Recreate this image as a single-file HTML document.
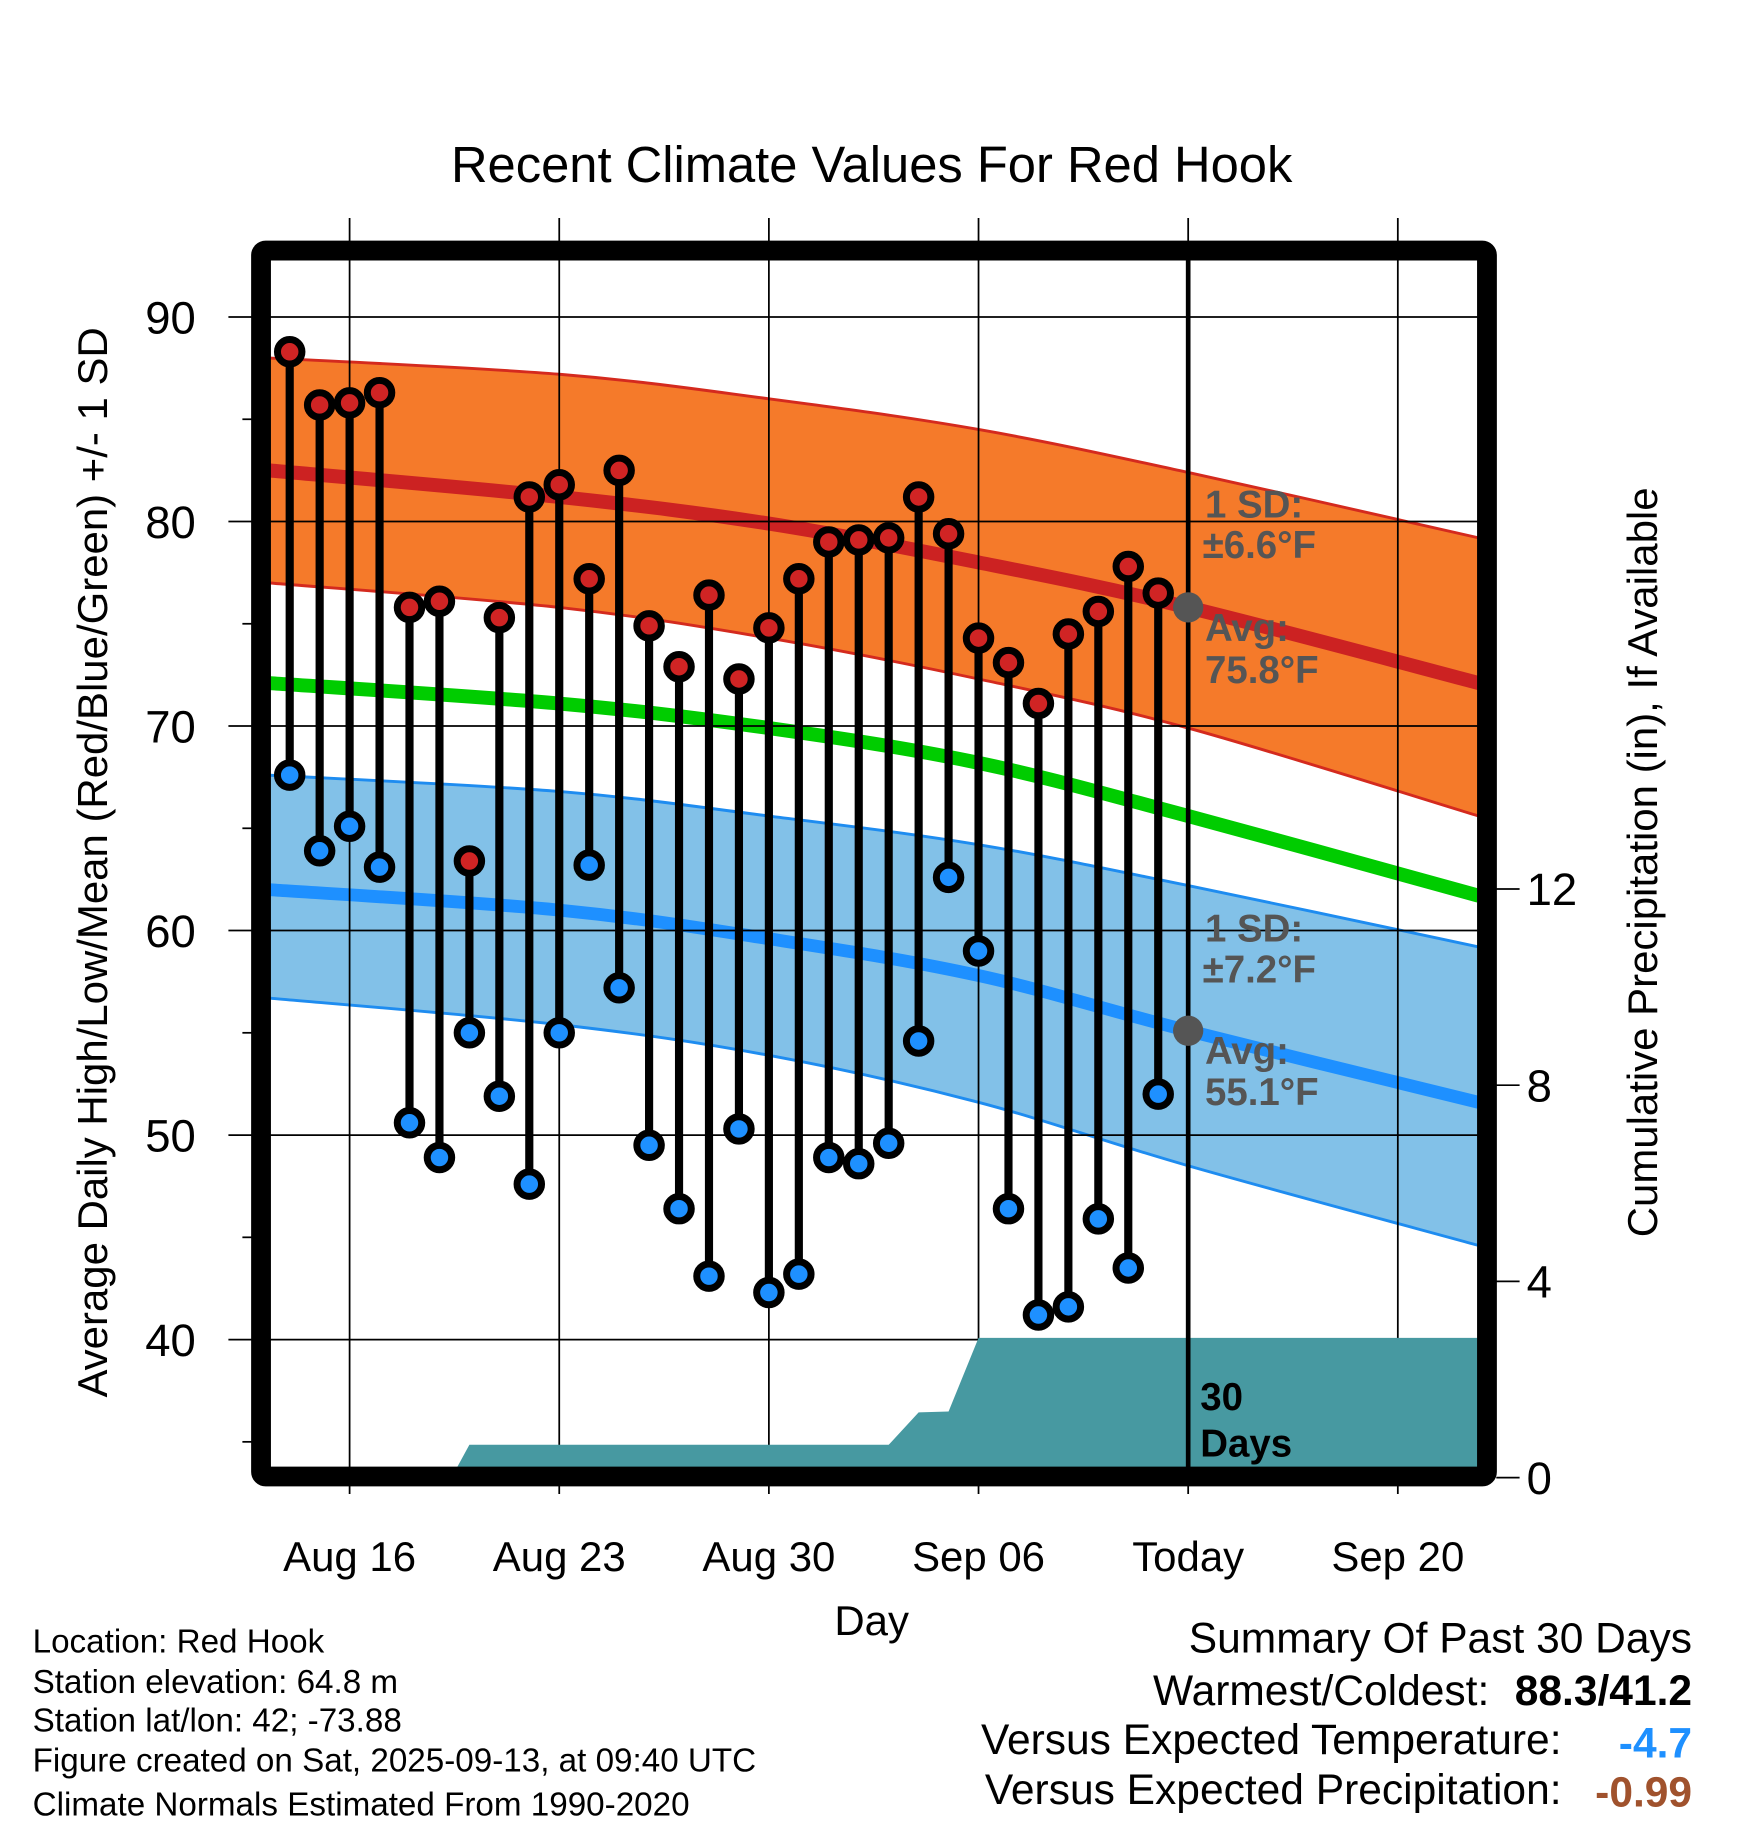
<!DOCTYPE html>
<html><head><meta charset="utf-8"><style>
html,body{margin:0;padding:0;background:#fff}
svg{display:block;font-family:"Liberation Sans",Arial,sans-serif}
</style></head><body>
<svg id="c" width="1748" height="1828" viewBox="0 0 1500 1568.6" xmlns="http://www.w3.org/2000/svg">
<text x="748" y="156" font-size="43.5" text-anchor="middle">Recent Climate Values For Red Hook</text>
<g id="bands"></g><g id="grid"></g><g id="precip"></g><g id="lines"></g><g id="stems"></g>
<rect x="224" y="215" width="1052" height="1052" fill="none" stroke="#000" stroke-width="17" rx="4"/>
<g id="axes"></g>
<g font-size="33" font-weight="bold" fill="#555">
<text x="1034" y="444">1 SD:</text><text x="1032" y="479">±6.6°F</text>
<text x="1034" y="550">Avg:</text><text x="1034" y="586">75.8°F</text></g>
<g font-size="33" font-weight="bold" fill="#555">
<text x="1034" y="808">1 SD:</text><text x="1032" y="843">±7.2°F</text>
<text x="1034" y="913">Avg:</text><text x="1034" y="948">55.1°F</text></g>
<g font-size="33" font-weight="bold"><text x="1030" y="1210">30</text><text x="1030" y="1250">Days</text></g>
<text x="748" y="1403" font-size="36" text-anchor="middle">Day</text>
<text transform="translate(92,740) rotate(-90)" font-size="36" text-anchor="middle">Average Daily High/Low/Mean (Red/Blue/Green) +/- 1 SD</text>
<text transform="translate(1422,740) rotate(-90)" font-size="36" text-anchor="middle">Cumulative Precipitation (in), If Available</text>
<g font-size="28.5">
<text x="28" y="1418">Location: Red Hook</text>
<text x="28" y="1453">Station elevation: 64.8 m</text>
<text x="28" y="1486">Station lat/lon: 42; -73.88</text>
<text x="28" y="1520">Figure created on Sat, 2025-09-13, at 09:40 UTC</text>
<text x="28" y="1558">Climate Normals Estimated From 1990-2020</text></g>
<g font-size="36.5" text-anchor="end">
<text x="1452" y="1418">Summary Of Past 30 Days</text>
<text x="1278" y="1463">Warmest/Coldest:</text><text x="1452" y="1463" font-weight="bold">88.3/41.2</text>
<text x="1340" y="1505">Versus Expected Temperature:</text><text x="1452" y="1508" font-weight="bold" fill="#1e90ff">-4.7</text>
<text x="1340" y="1548">Versus Expected Precipitation:</text><text x="1452" y="1550" font-weight="bold" fill="#a0522d">-0.99</text></g>
</svg>
<script>
const highs=[88.3,85.7,85.8,86.3,75.8,76.1,63.4,75.3,81.2,81.8,77.2,82.5,74.9,72.9,76.4,72.3,74.8,77.2,79.0,79.1,79.2,81.2,79.4,74.3,73.1,71.1,74.5,75.6,77.8,76.5];
const lows=[67.6,63.9,65.1,63.1,50.6,48.9,55.0,51.9,47.6,55.0,63.2,57.2,49.5,46.4,43.1,50.3,42.3,43.2,48.9,48.6,49.6,54.6,62.6,59.0,46.4,41.2,41.6,45.9,43.5,52.0];
const normDays=[-2.7,7,14,21,28,37.7];
const hiUpper=[88.0,87.2,86.0,84.5,82.4,79.2];
const hiMean=[82.5,81.2,79.9,78.0,75.8,72.1];
const hiLower=[77.0,75.8,74.3,72.3,69.9,65.6];
const meanT=[72.1,71.1,69.9,68.2,65.6,61.7];
const loUpper=[67.6,66.8,65.6,64.2,62.2,59.2];
const loMean=[62.0,61.0,59.6,57.8,55.1,51.6];
const loLower=[56.7,55.4,53.9,51.6,48.5,44.6];
const precipDays=[-2.7,3.4,4,18,19,20,21,37.7];
const precipVals=[0,0,0.67,0.67,1.33,1.35,2.85,2.85];
const xTickDays=[0,7,14,21,28,35];
const xTickLabels=["Aug 16","Aug 23","Aug 30","Sep 06","Today","Sep 20"];
const yTicks=[40,50,60,70,80,90];
const y2Ticks=[0,4,8,12];
const startDay=-2, todayDay=28;
const PL=231,PR=1268,PT=224,PB=1259;
const X=d=>300+d*25.7, Y=v=>272+(90-v)*17.55, P=v=>1268-v*42.1;
const NS="http://www.w3.org/2000/svg";
function mk(p,t,a){const e=document.createElementNS(NS,t);for(const k in a)e.setAttribute(k,a[k]);document.getElementById(p).appendChild(e);return e;}
function smooth(ds,vs){const p=ds.map((d,i)=>[X(d),Y(vs[i])]);let s="";
 for(let i=0;i<p.length-1;i++){const p0=p[Math.max(i-1,0)],p1=p[i],p2=p[i+1],p3=p[Math.min(i+2,p.length-1)];
  const c1=[p1[0]+(p2[0]-p0[0])/6,p1[1]+(p2[1]-p0[1])/6],c2=[p2[0]-(p3[0]-p1[0])/6,p2[1]-(p3[1]-p1[1])/6];
  s+=" C"+c1.join(",")+" "+c2.join(",")+" "+p2.join(",");}
 return {start:p[0],segs:s,pts:p};}
function rev(ds,vs){return smooth(ds.slice().reverse(),vs.slice().reverse());}
function band(up,lo,fill,name){const a=smooth(normDays,up),b=rev(normDays,lo);
 const e=mk('bands','path',{d:"M"+a.start.join(",")+a.segs+" L"+b.start.join(",")+b.segs+" Z",fill:fill});
 }
band(hiUpper,hiLower,'#f57a2a','high-sd-band');
band(loUpper,loLower,'#82c1e8','low-sd-band');
let e;
[[hiUpper,'#d42a1e',2.5,'high-upper-edge'],[hiLower,'#d42a1e',2.5,'high-lower-edge'],[loUpper,'#1e8cf0',2.5,'low-upper-edge'],[loLower,'#1e8cf0',2.5,'low-lower-edge'],[hiMean,'#cc2222',12,'normal-high-line'],[meanT,'#00cc00',12,'normal-mean-line'],[loMean,'#1e90ff',11,'normal-low-line']].forEach(s=>{
 const c=smooth(normDays,s[0]);
 e=mk('bands','path',{d:"M"+c.start.join(",")+c.segs,fill:'none',stroke:s[1],'stroke-width':s[2]});
 
});
yTicks.forEach(v=>{e=mk('grid','line',{x1:196,x2:PR,y1:Y(v),y2:Y(v),stroke:'#000','stroke-width':1.5});
 });
xTickDays.forEach(d=>{e=mk('grid','line',{x1:X(d),x2:X(d),y1:187,y2:1282,stroke:'#000','stroke-width':1.5});
 });
let pp=precipDays.map((d,i)=>X(Math.max(d,-2.68)).toFixed(1)+","+P(precipVals[i]).toFixed(1));
pp.push(PR+","+PB,PL+","+PB);
e=mk('precip','polygon',{points:pp.join(' '),fill:'#4799a1'});

e=mk('lines','line',{x1:X(todayDay),x2:X(todayDay),y1:PT-8,y2:PB,stroke:'#000','stroke-width':4});

e=mk('lines','circle',{cx:X(todayDay),cy:Y(75.8),r:13,fill:'#555'});

e=mk('lines','circle',{cx:X(todayDay),cy:Y(55.1),r:13,fill:'#555'});

highs.forEach((h,i)=>{const x=X(startDay+i);
 e=mk('stems','line',{x1:x,x2:x,y1:Y(h),y2:Y(lows[i]),stroke:'#000','stroke-width':7});
 
 e=mk('stems','circle',{cx:x,cy:Y(h),r:10.5,fill:'#d02424',stroke:'#000','stroke-width':6});
 
 e=mk('stems','circle',{cx:x,cy:Y(lows[i]),r:10.5,fill:'#1e90ff',stroke:'#000','stroke-width':6});
 
});
yTicks.forEach(v=>{e=mk('axes','text',{x:168,y:Y(v)+14,'font-size':39,'text-anchor':'end'});e.textContent=v;
 });
for(let v=35;v<=85;v+=10){e=mk('axes','line',{x1:208,x2:216,y1:Y(v),y2:Y(v),stroke:'#000','stroke-width':1.5});
 }
xTickDays.forEach((d,i)=>{e=mk('axes','text',{x:X(d),y:1348,'font-size':36,'text-anchor':'middle'});e.textContent=xTickLabels[i];
 });
y2Ticks.forEach(v=>{e=mk('axes','line',{x1:1284,x2:1304,y1:P(v),y2:P(v),stroke:'#000','stroke-width':1.5});
 
 e=mk('axes','text',{x:1310,y:P(v)+14,'font-size':39});e.textContent=v;
 });
</script>
</body></html>
